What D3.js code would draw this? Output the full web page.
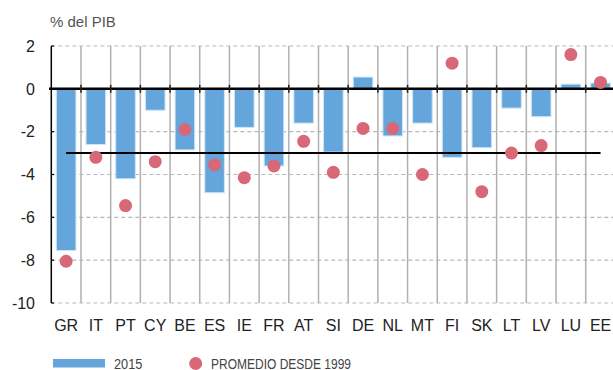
<!DOCTYPE html>
<html>
<head>
<meta charset="utf-8">
<script src="https://cdn.jsdelivr.net/npm/d3@7"></script>
<style>
  body { margin: 0; background: #fff; }
  svg { display: block; font-family: "Liberation Sans", Arial, sans-serif; }
</style>
</head>
<body>
<div id="chart"></div>
<script>
const countries = ["GR", "IT", "PT", "CY", "BE", "ES", "IE", "FR", "AT", "SI", "DE", "NL", "MT", "FI", "SK", "LT", "LV", "LU", "EE"];
const deficit2015 = [-7.55, -2.6, -4.2, -1.0, -2.85, -4.85, -1.8, -3.6, -1.6, -2.95, 0.55, -2.2, -1.6, -3.2, -2.75, -0.9, -1.3, 0.22, 0.27];
const avgSince1999 = [-8.05, -3.2, -5.45, -3.4, -1.9, -3.55, -4.15, -3.6, -2.45, -3.9, -1.85, -1.85, -4.0, 1.2, -4.8, -3.0, -2.65, 1.6, 0.3];
const yTicks = [2, 0, -2, -4, -6, -8, -10];
const threshold = -3;

const width = 613, height = 370;
const blue = "#64a6db", red = "#d86878";

const svg = d3.select("#chart").append("svg")
  .attr("width", width)
  .attr("height", height);

const x = d3.scaleBand().domain(countries).range([51.3, 615.4]).paddingInner(0).paddingOuter(0);
const y = d3.scaleLinear().domain([-10, 2]).range([303, 46]);
const barW = x.bandwidth() * 0.66;

// y-axis label
svg.append("text")
  .attr("x", 50).attr("y", 27)
  .style("font-size", "15px").style("fill", "#555")
  .text("% del PIB");

// horizontal dashed grid
svg.append("g").selectAll("line")
  .data(yTicks.filter(d => d !== 0))
  .join("line")
  .attr("x1", 51.3).attr("x2", width)
  .attr("y1", d => y(d)).attr("y2", d => y(d))
  .style("stroke", "#b8b8b8")
  .style("stroke-width", 1.2)
  .style("stroke-dasharray", "4,3");

// vertical grid at band boundaries
svg.append("g").selectAll("line")
  .data(countries.slice(1))
  .join("line")
  .attr("x1", d => x(d)).attr("x2", d => x(d))
  .attr("y1", y(2)).attr("y2", y(-10))
  .style("stroke", "#b0b0b0")
  .style("stroke-width", 1.5);

// bars
svg.append("g").selectAll("rect")
  .data(countries)
  .join("rect")
  .attr("x", d => x(d) + (x.bandwidth() - barW) / 2)
  .attr("width", barW)
  .attr("y", (d, i) => y(Math.max(0, deficit2015[i])))
  .attr("height", (d, i) => Math.abs(y(deficit2015[i]) - y(0)))
  .style("fill", blue)
  .style("stroke", "#cfe4f6")
  .style("stroke-width", 1);

// zero line with small ticks at boundaries
svg.append("line")
  .attr("x1", 49).attr("x2", width)
  .attr("y1", y(0)).attr("y2", y(0))
  .style("stroke", "#000").style("stroke-width", 2.5);
svg.append("g").selectAll("line")
  .data(countries.slice(1))
  .join("line")
  .attr("x1", d => x(d)).attr("x2", d => x(d))
  .attr("y1", y(0) - 4).attr("y2", y(0) + 4)
  .style("stroke", "#222").style("stroke-width", 1.5);

// -3% reference line
svg.append("line")
  .attr("x1", x(countries[0]) + x.bandwidth() / 2)
  .attr("x2", x(countries[countries.length - 1]) + x.bandwidth() / 2)
  .attr("y1", y(threshold)).attr("y2", y(threshold))
  .style("stroke", "#000").style("stroke-width", 2);

// dots
svg.append("g").selectAll("circle")
  .data(countries)
  .join("circle")
  .attr("cx", d => x(d) + x.bandwidth() / 2)
  .attr("cy", (d, i) => y(avgSince1999[i]))
  .attr("r", 6.5)
  .style("fill", red);

// y axis
svg.append("line")
  .attr("x1", 51.3).attr("x2", 51.3)
  .attr("y1", y(2)).attr("y2", y(-10))
  .style("stroke", "#000").style("stroke-width", 1.5);
svg.append("g").selectAll("line")
  .data(yTicks)
  .join("line")
  .attr("x1", 51.3).attr("x2", 54)
  .attr("y1", d => y(d)).attr("y2", d => y(d))
  .style("stroke", "#000").style("stroke-width", 1.2);
svg.append("g").selectAll("text")
  .data(yTicks)
  .join("text")
  .attr("x", 35).attr("y", d => y(d))
  .attr("dy", "0.36em")
  .attr("text-anchor", "end")
  .style("font-size", "16px").style("fill", "#222")
  .text(d => d);

// x labels
svg.append("g").selectAll("text")
  .data(countries)
  .join("text")
  .attr("x", d => x(d) + x.bandwidth() / 2)
  .attr("y", 331)
  .attr("text-anchor", "middle")
  .style("font-size", "16px").style("fill", "#222")
  .text(d => d);

// legend
const legend = svg.append("g");
legend.append("rect")
  .attr("x", 53).attr("y", 359).attr("width", 52).attr("height", 8.5)
  .style("fill", blue);
legend.append("text")
  .attr("x", 114).attr("y", 368.5)
  .attr("textLength", 28.5).attr("lengthAdjust", "spacingAndGlyphs")
  .style("font-size", "14.5px").style("fill", "#444")
  .text("2015");
legend.append("circle")
  .attr("cx", 195.7).attr("cy", 363.5).attr("r", 6.5)
  .style("fill", red);
legend.append("text")
  .attr("x", 211).attr("y", 368.5)
  .attr("textLength", 140).attr("lengthAdjust", "spacingAndGlyphs")
  .style("font-size", "14.5px").style("fill", "#444")
  .text("PROMEDIO DESDE 1999");
</script>
</body>
</html>
